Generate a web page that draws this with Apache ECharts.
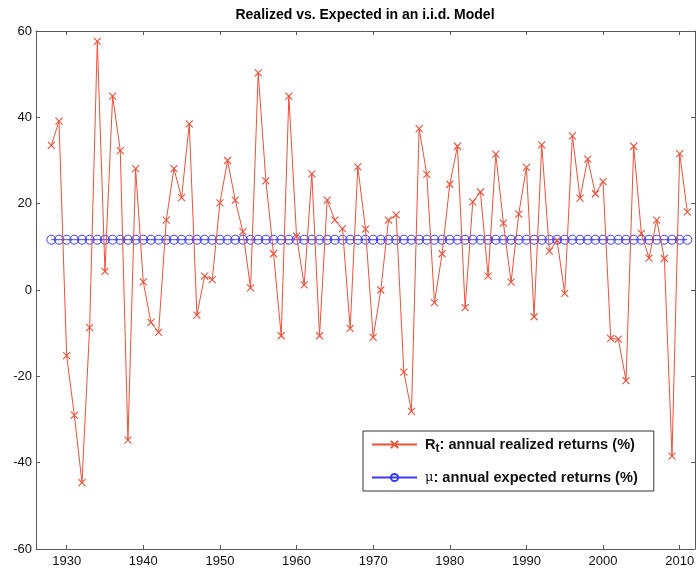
<!DOCTYPE html>
<html>
<head>
<meta charset="utf-8">
<script src="https://cdn.jsdelivr.net/npm/echarts@6/dist/echarts.min.js"></script>
<style>
  html, body { margin: 0; padding: 0; background: #fff; }
  #chart { width: 697px; height: 570px; }
</style>
</head>
<body>
<div id="chart"></div>
<script>
// annual data
const years = [1928, 1929, 1930, 1931, 1932, 1933, 1934, 1935, 1936, 1937, 1938, 1939,
  1940, 1941, 1942, 1943, 1944, 1945, 1946, 1947, 1948, 1949,
  1950, 1951, 1952, 1953, 1954, 1955, 1956, 1957, 1958, 1959,
  1960, 1961, 1962, 1963, 1964, 1965, 1966, 1967, 1968, 1969,
  1970, 1971, 1972, 1973, 1974, 1975, 1976, 1977, 1978, 1979,
  1980, 1981, 1982, 1983, 1984, 1985, 1986, 1987, 1988, 1989,
  1990, 1991, 1992, 1993, 1994, 1995, 1996, 1997, 1998, 1999,
  2000, 2001, 2002, 2003, 2004, 2005, 2006, 2007, 2008, 2009, 2010, 2011]
const realized = [33.5, 39.1, -15.2, -29.0, -44.6, -8.7, 57.6, 4.3, 44.9, 32.3, -34.8, 28.1,
  1.9, -7.5, -9.8, 16.2, 28.1, 21.4, 38.5, -5.8, 3.2, 2.4,
  20.2, 30.0, 20.8, 13.5, 0.5, 50.3, 25.3, 8.4, -10.6, 44.9,
  12.5, 1.2, 26.9, -10.6, 20.8, 16.2, 14.2, -8.9, 28.5, 14.1,
  -11.0, 0.0, 16.2, 17.4, -19.0, -28.1, 37.4, 26.8, -2.9, 8.4,
  24.5, 33.3, -4.1, 20.4, 22.7, 3.2, 31.5, 15.5, 1.8, 17.6,
  28.4, -6.2, 33.6, 9.0, 11.5, -0.8, 35.7, 21.3, 30.3, 22.3,
  25.1, -11.2, -11.4, -21.0, 33.3, 13.1, 7.4, 16.2, 7.3, -38.5, 31.6, 18.1]
const expectedMu = 11.65
const xTicks = [1930, 1940, 1950, 1960, 1970, 1980, 1990, 2000, 2010]

const RED = '#e8533b'
const BLUE = '#3a3aff'
const AXIS = '#5a5a5a'
const FONT = '"Liberation Sans", Arial, sans-serif'

let myChart = echarts.init(document.getElementById('chart'))

const axisCommon = {
  axisLine: { show: true, onZero: false, lineStyle: { color: AXIS, width: 1 } },
  splitLine: { show: false }
}
const tickStyle = { show: true, inside: true, length: 4, lineStyle: { color: AXIS } }

const option = {
  animation: false,
  backgroundColor: '#fff',
  title: {
    text: 'Realized vs. Expected in an i.i.d. Model',
    left: 360,
    textAlign: 'center',
    top: 3,
    textStyle: { fontFamily: FONT, fontSize: 14, fontWeight: 'bold', color: '#000' }
  },
  grid: { left: 36, right: 2, top: 31, bottom: 21, containLabel: false, outerBoundsMode: 'none' },
  legend: {
    orient: 'vertical',
    left: 363,
    top: 431,
    padding: [6, 16, 6, 8],
    itemGap: 15,
    itemWidth: 45,
    itemHeight: 9,
    borderColor: '#333',
    borderWidth: 1,
    backgroundColor: '#fff',
    data: ['Rt', 'mu'],
    formatter: function (name) {
      if (name === 'Rt') return '{b|R}{sub|t}{b|: annual realized returns (%)}'
      return '{mu|\u03bc}{b|: annual expected returns (%)}'
    },
    textStyle: {
      padding: [0, 0, 0, 3],
      rich: {
        b: { fontFamily: FONT, fontSize: 14.6, fontWeight: 'bold', color: '#111' },
        sub: { fontFamily: FONT, fontSize: 12, fontWeight: 'bold', color: '#111', verticalAlign: 'bottom', padding: [9, 0, 0, 0] },
        mu: { fontFamily: '"DejaVu Serif", serif', fontSize: 13, color: '#111' }
      }
    }
  },
  xAxis: [
    Object.assign({
      type: 'value', min: 1926, max: 2012, position: 'bottom',
      axisTick: Object.assign({ customValues: xTicks }, tickStyle),
      axisLabel: { customValues: xTicks, formatter: v => String(v), color: '#111', fontFamily: FONT, fontSize: 13, margin: 6 }
    }, axisCommon),
    Object.assign({
      type: 'value', min: 1926, max: 2012, position: 'top',
      axisTick: Object.assign({ customValues: xTicks }, tickStyle),
      axisLabel: { show: false, customValues: xTicks }
    }, axisCommon)
  ],
  yAxis: [
    Object.assign({
      type: 'value', min: -60, max: 60, interval: 20, position: 'left',
      axisTick: tickStyle,
      axisLabel: { color: '#111', fontFamily: FONT, fontSize: 13, margin: 4 }
    }, axisCommon),
    Object.assign({
      type: 'value', min: -60, max: 60, interval: 20, position: 'right',
      axisTick: tickStyle,
      axisLabel: { show: false }
    }, axisCommon)
  ],
  series: [
    {
      name: 'mu',
      type: 'line',
      data: years.map(y => [y, expectedMu]),
      symbol: 'circle',
      symbolSize: 9,
      showAllSymbol: true,
      lineStyle: { color: BLUE, width: 1 },
      itemStyle: { color: 'rgba(255,255,255,0)', borderColor: BLUE, borderWidth: 1 },
      z: 2
    },
    {
      name: 'Rt',
      type: 'line',
      data: years.map((y, i) => [y, realized[i]]),
      symbol: 'path://M0,0L10,10M10,0L0,10',
      symbolSize: 7,
      showAllSymbol: true,
      lineStyle: { color: RED, width: 1 },
      itemStyle: { color: 'rgba(0,0,0,0)', borderColor: RED, borderWidth: 1.1 },
      z: 3
    }
  ]
}
myChart.setOption(option)
</script>
</body>
</html>
